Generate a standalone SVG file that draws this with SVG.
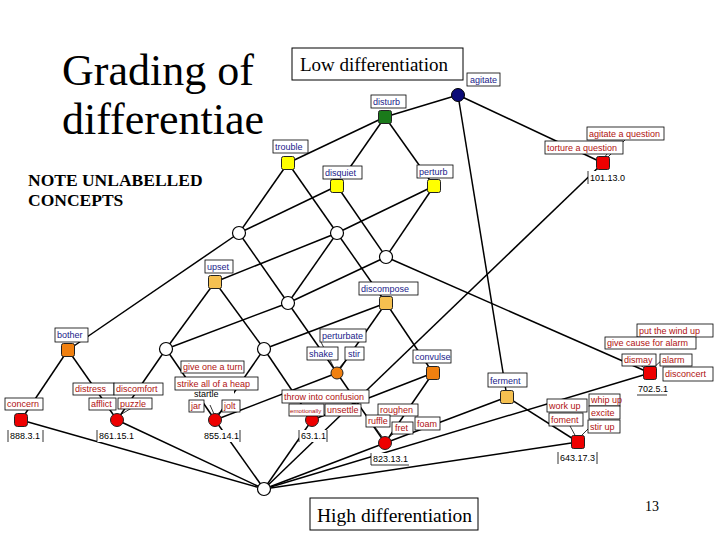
<svg xmlns="http://www.w3.org/2000/svg" width="720" height="540" viewBox="0 0 720 540">
<style>
.e{stroke:#000;stroke-width:1.5;fill:none}
.ld{stroke:#000;stroke-width:0.8;fill:none}
.w{fill:#fff;stroke:#000;stroke-width:1.2}
.sq{stroke:#222;stroke-width:1}
.lb rect{fill:#fff;stroke:#000;stroke-width:0.8}
.lb text{font-family:"Liberation Sans",Arial,sans-serif;font-size:9px}
.b text{fill:#1a1a8a}
.r text{fill:#b01010}
.n text{fill:#000}
.n rect{stroke:none}
.big{font-family:"Liberation Serif","Times New Roman",serif;fill:#000}
</style>
<rect width="720" height="540" fill="#fff"/>
<g id="title">
<text class="big" x="62" y="85" font-size="44">Grading of</text>
<text class="big" x="62" y="134" font-size="44">differentiae</text>
<text class="big" x="28" y="186" font-size="17.5" font-weight="bold">NOTE UNLABELLED</text>
<text class="big" x="28" y="206" font-size="17.5" font-weight="bold">CONCEPTS</text>
</g>
<g id="low">
<rect x="292" y="48" width="171" height="32" fill="#fff" stroke="#000" stroke-width="1"/>
<text class="big" x="300" y="71" font-size="19">Low differentiation</text>
</g>
<g id="high">
<rect x="310" y="498" width="168" height="32" fill="#fff" stroke="#000" stroke-width="1"/>
<text class="big" x="317" y="522" font-size="19.5">High differentiation</text>
</g>
<text class="big" x="645" y="511" font-size="14">13</text>
<g id="connectors">
<line class="e" x1="458" y1="95" x2="385" y2="117"/>
<line class="e" x1="458" y1="95" x2="603" y2="163"/>
<line class="e" x1="458" y1="95" x2="507" y2="397"/>
<line class="e" x1="385" y1="117" x2="288" y2="163"/>
<line class="e" x1="385" y1="117" x2="337" y2="186"/>
<line class="e" x1="385" y1="117" x2="434" y2="186"/>
<line class="e" x1="288" y1="163" x2="239" y2="233"/>
<line class="e" x1="288" y1="163" x2="337" y2="233"/>
<line class="e" x1="337" y1="186" x2="239" y2="233"/>
<line class="e" x1="337" y1="186" x2="386" y2="257"/>
<line class="e" x1="434" y1="186" x2="337" y2="233"/>
<line class="e" x1="434" y1="186" x2="386" y2="257"/>
<line class="e" x1="239" y1="233" x2="68" y2="350"/>
<line class="e" x1="239" y1="233" x2="288" y2="303"/>
<line class="e" x1="337" y1="233" x2="215" y2="282"/>
<line class="e" x1="337" y1="233" x2="288" y2="303"/>
<line class="e" x1="337" y1="233" x2="386" y2="303"/>
<line class="e" x1="386" y1="257" x2="288" y2="303"/>
<line class="e" x1="386" y1="257" x2="650" y2="373"/>
<line class="e" x1="215" y1="282" x2="166" y2="349"/>
<line class="e" x1="215" y1="282" x2="264" y2="349"/>
<line class="e" x1="288" y1="303" x2="166" y2="349"/>
<line class="e" x1="288" y1="303" x2="337" y2="373"/>
<line class="e" x1="386" y1="303" x2="264" y2="349"/>
<line class="e" x1="386" y1="303" x2="337" y2="373"/>
<line class="e" x1="386" y1="303" x2="433" y2="373"/>
<line class="e" x1="68" y1="350" x2="21" y2="420"/>
<line class="e" x1="68" y1="350" x2="117" y2="420"/>
<line class="e" x1="166" y1="349" x2="117" y2="420"/>
<line class="e" x1="166" y1="349" x2="215" y2="420"/>
<line class="e" x1="264" y1="349" x2="215" y2="420"/>
<line class="e" x1="264" y1="349" x2="312" y2="420"/>
<line class="e" x1="337" y1="373" x2="215" y2="420"/>
<line class="e" x1="337" y1="373" x2="385" y2="443"/>
<line class="e" x1="433" y1="373" x2="312" y2="420"/>
<line class="e" x1="433" y1="373" x2="385" y2="443"/>
<line class="e" x1="507" y1="397" x2="385" y2="443"/>
<line class="e" x1="507" y1="397" x2="578" y2="442"/>
<line class="e" x1="264" y1="489" x2="21" y2="420"/>
<line class="e" x1="264" y1="489" x2="117" y2="420"/>
<line class="e" x1="264" y1="489" x2="215" y2="420"/>
<line class="e" x1="264" y1="489" x2="312" y2="420"/>
<line class="e" x1="264" y1="489" x2="385" y2="443"/>
<line class="e" x1="264" y1="489" x2="578" y2="442"/>
<line class="e" x1="264" y1="489" x2="650" y2="373"/>
<line class="e" x1="264" y1="489" x2="603" y2="163"/>
<line class="ld" x1="640" y1="365" x2="648" y2="370"/>
<line class="ld" x1="662" y1="360" x2="652" y2="369"/>
<line class="ld" x1="570" y1="426" x2="576" y2="437"/>
<line class="ld" x1="592" y1="425" x2="580" y2="437"/>
<line class="ld" x1="320" y1="340" x2="334" y2="368"/>
<line class="ld" x1="346" y1="360" x2="339" y2="368"/>
<line class="ld" x1="375" y1="427" x2="383" y2="438"/>
<line class="ld" x1="398" y1="430" x2="388" y2="438"/>
<line class="ld" x1="210" y1="405" x2="214" y2="414"/>
<line class="ld" x1="228" y1="408" x2="217" y2="414"/>
<line class="ld" x1="135" y1="406" x2="120" y2="415"/>
<line class="ld" x1="610" y1="150" x2="604" y2="158"/>
<line class="ld" x1="625" y1="140" x2="607" y2="158"/>
</g>
<g id="n-agitate"><circle cx="458" cy="95" r="6.5" fill="#0c0c78" stroke="#000" stroke-width="1"/></g>
<g id="n-disturb"><rect class="sq" x="378.5" y="110.5" width="13" height="13" rx="2" fill="#1a7a1a"/></g>
<g id="n-trouble"><rect class="sq" x="281.5" y="156.5" width="13" height="13" rx="2" fill="#ffff00"/></g>
<g id="n-disquiet"><rect class="sq" x="330.5" y="179.5" width="13" height="13" rx="2" fill="#ffff00"/></g>
<g id="n-perturb"><rect class="sq" x="427.5" y="179.5" width="13" height="13" rx="2" fill="#ffff00"/></g>
<g id="n-question"><rect class="sq" x="596.5" y="156.5" width="13" height="13" rx="2" fill="#ee0000"/></g>
<g id="c-a"><circle class="w" cx="239" cy="233" r="6.5"/></g>
<g id="c-b"><circle class="w" cx="337" cy="233" r="6.5"/></g>
<g id="c-c"><circle class="w" cx="386" cy="257" r="6.5"/></g>
<g id="n-upset"><rect class="sq" x="208.5" y="275.5" width="13" height="13" rx="2" fill="#f5c050"/></g>
<g id="c-d"><circle class="w" cx="288" cy="303" r="6.5"/></g>
<g id="n-discompose"><rect class="sq" x="379.5" y="296.5" width="13" height="13" rx="2" fill="#f5c050"/></g>
<g id="n-bother"><rect class="sq" x="61.5" y="343.5" width="13" height="13" rx="2" fill="#f08010"/></g>
<g id="c-e"><circle class="w" cx="166" cy="349" r="6.5"/></g>
<g id="c-f"><circle class="w" cx="264" cy="349" r="6.5"/></g>
<g id="n-shake"><circle cx="337" cy="373" r="6" fill="#f08010" stroke="#222" stroke-width="1"/></g>
<g id="n-convulse"><rect class="sq" x="426.5" y="366.5" width="13" height="13" rx="2" fill="#f08010"/></g>
<g id="n-ferment"><rect class="sq" x="500.5" y="390.5" width="13" height="13" rx="2" fill="#f5c050"/></g>
<g id="n-disconcert"><rect class="sq" x="643.5" y="366.5" width="13" height="13" rx="2" fill="#ee0000"/></g>
<g id="n-concern"><rect class="sq" x="14.5" y="413.5" width="13" height="13" rx="3" fill="#ee0000"/></g>
<g id="n-afflict"><circle cx="117" cy="420" r="6.5" fill="#ee0000" stroke="#222" stroke-width="1"/></g>
<g id="n-jar"><circle cx="215" cy="420" r="6.5" fill="#ee0000" stroke="#222" stroke-width="1"/></g>
<g id="n-emot"><circle cx="312" cy="420" r="6.5" fill="#ee0000" stroke="#222" stroke-width="1"/></g>
<g id="n-roughen"><circle cx="385" cy="443" r="6.5" fill="#ee0000" stroke="#222" stroke-width="1"/></g>
<g id="n-workup"><rect class="sq" x="571.5" y="435.5" width="13" height="13" rx="2" fill="#ee0000"/></g>
<g id="c-bottom"><circle class="w" cx="264" cy="489" r="6.5"/></g>
<g id="labels">
<g class="lb b"><rect x="467" y="73" width="33" height="13"/><text x="470" y="83">agitate</text></g>
<g class="lb b"><rect x="371" y="95" width="35" height="13"/><text x="373" y="105">disturb</text></g>
<g class="lb b"><rect x="273" y="140" width="35" height="13"/><text x="275" y="150">trouble</text></g>
<g class="lb b"><rect x="323" y="166" width="39" height="13"/><text x="325" y="176">disquiet</text></g>
<g class="lb b"><rect x="417" y="165" width="36" height="13"/><text x="419" y="175">perturb</text></g>
<g class="lb r"><rect x="587" y="127" width="77" height="13"/><text x="589" y="137">agitate a question</text></g>
<g class="lb r"><rect x="545" y="141" width="78" height="13"/><text x="547" y="151">torture a question</text></g>
<g class="lb n"><rect x="588" y="171" width="37" height="12"/><line class="ld" x1="588" y1="171" x2="588" y2="184"/><text x="590" y="181">101.13.0</text></g>
<g class="lb b"><rect x="205" y="260" width="28" height="13"/><text x="207" y="270">upset</text></g>
<g class="lb b"><rect x="359" y="282" width="59" height="13"/><text x="361" y="292">discompose</text></g>
<g class="lb b"><rect x="55" y="328" width="33" height="14"/><text x="57" y="338">bother</text></g>
<g class="lb b"><rect x="320" y="329" width="46" height="13"/><text x="322" y="339">perturbate</text></g>
<g class="lb b"><rect x="307" y="347" width="31" height="13"/><text x="309" y="357">shake</text></g>
<g class="lb b"><rect x="345" y="347" width="19" height="13"/><text x="348" y="357">stir</text></g>
<g class="lb b"><rect x="413" y="350" width="38" height="13"/><text x="415" y="360">convulse</text></g>
<g class="lb b"><rect x="488" y="373" width="39" height="14"/><text x="490" y="384">ferment</text></g>
<g class="lb r"><rect x="637" y="324" width="76" height="13"/><text x="639" y="334">put the wind up</text></g>
<g class="lb r"><rect x="605" y="337" width="91" height="12"/><text x="607" y="346">give cause for alarm</text></g>
<g class="lb r"><rect x="622" y="354" width="34" height="12"/><text x="624" y="363">dismay</text></g>
<g class="lb r"><rect x="660" y="354" width="32" height="12"/><text x="662" y="363">alarm</text></g>
<g class="lb r"><rect x="663" y="367" width="50" height="14"/><text x="665" y="377">disconcert</text></g>
<g class="lb n"><rect x="637" y="383" width="31" height="12"/><line class="ld" x1="637" y1="395" x2="667" y2="395"/><text x="638" y="392">702.5.1</text></g>
<g class="lb r"><rect x="589" y="394" width="31" height="12"/><text x="591" y="403">whip up</text></g>
<g class="lb r"><rect x="589" y="406" width="31" height="13"/><text x="591" y="416">excite</text></g>
<g class="lb r"><rect x="547" y="399" width="40" height="13"/><text x="549" y="409">work up</text></g>
<g class="lb r"><rect x="549" y="413" width="34" height="13"/><text x="551" y="423">foment</text></g>
<g class="lb r"><rect x="588" y="420" width="32" height="13"/><text x="590" y="430">stir up</text></g>
<g class="lb n"><rect x="558" y="452" width="39" height="12"/><line class="ld" x1="558" y1="452" x2="558" y2="464"/><line class="ld" x1="597" y1="452" x2="597" y2="464"/><text x="560" y="461">643.17.3</text></g>
<g class="lb r"><rect x="378" y="404" width="40" height="12"/><text x="380" y="413">roughen</text></g>
<g class="lb r"><rect x="415" y="417" width="25" height="13"/><text x="417" y="427">foam</text></g>
<g class="lb r"><rect x="366" y="415" width="24" height="12"/><text x="368" y="424">ruffle</text></g>
<g class="lb r"><rect x="392" y="422" width="21" height="12"/><text x="395" y="431">fret</text></g>
<g class="lb n"><rect x="371" y="453" width="38" height="12"/><line class="ld" x1="371" y1="453" x2="371" y2="465"/><line class="ld" x1="371" y1="465" x2="409" y2="465"/><text x="373" y="462">823.13.1</text></g>
<g class="lb r"><rect x="282" y="390" width="87" height="13"/><text x="284" y="400">throw into confusion</text></g>
<g class="lb r"><rect x="289" y="404" width="35" height="12"/><text x="290" y="412.5" style="font-size:6.2px">emotionally</text></g>
<g class="lb r"><rect x="325" y="404" width="36" height="12"/><text x="327" y="413">unsettle</text></g>
<g class="lb n"><rect x="299" y="430" width="28" height="12"/><line class="ld" x1="299" y1="430" x2="299" y2="442"/><line class="ld" x1="327" y1="430" x2="327" y2="442"/><text x="301" y="439">63.1.1</text></g>
<g class="lb r"><rect x="181" y="361" width="63" height="12"/><text x="183" y="370">give one a turn</text></g>
<g class="lb n"><rect x="192" y="388" width="42" height="12"/><text x="194" y="397" fill="#333">startle</text></g>
<g class="lb r"><rect x="175" y="377" width="83" height="13"/><text x="177" y="387">strike all of a heap</text></g>
<g class="lb r"><rect x="189" y="400" width="15" height="12"/><text x="191" y="409">jar</text></g>
<g class="lb r"><rect x="222" y="400" width="18" height="12"/><text x="224" y="409">jolt</text></g>
<g class="lb n"><rect x="202" y="430" width="38" height="12"/><line class="ld" x1="240" y1="430" x2="240" y2="442"/><text x="204" y="439">855.14.1</text></g>
<g class="lb r"><rect x="73" y="383" width="41" height="12"/><text x="75" y="392">distress</text></g>
<g class="lb r"><rect x="114" y="383" width="49" height="12"/><text x="116" y="392">discomfort</text></g>
<g class="lb r"><rect x="89" y="398" width="27" height="12"/><text x="91" y="407">afflict</text></g>
<g class="lb r"><rect x="118" y="398" width="34" height="11"/><text x="120" y="407">puzzle</text></g>
<g class="lb n"><rect x="97" y="430" width="37" height="12"/><line class="ld" x1="97" y1="430" x2="97" y2="442"/><text x="99" y="439">861.15.1</text></g>
<g class="lb r"><rect x="5" y="398" width="38" height="12"/><text x="7" y="407">concern</text></g>
<g class="lb n"><rect x="8" y="430" width="35" height="12"/><line class="ld" x1="8" y1="430" x2="8" y2="442"/><line class="ld" x1="43" y1="430" x2="43" y2="442"/><text x="10" y="439">888.3.1</text></g>
</g>
</svg>
